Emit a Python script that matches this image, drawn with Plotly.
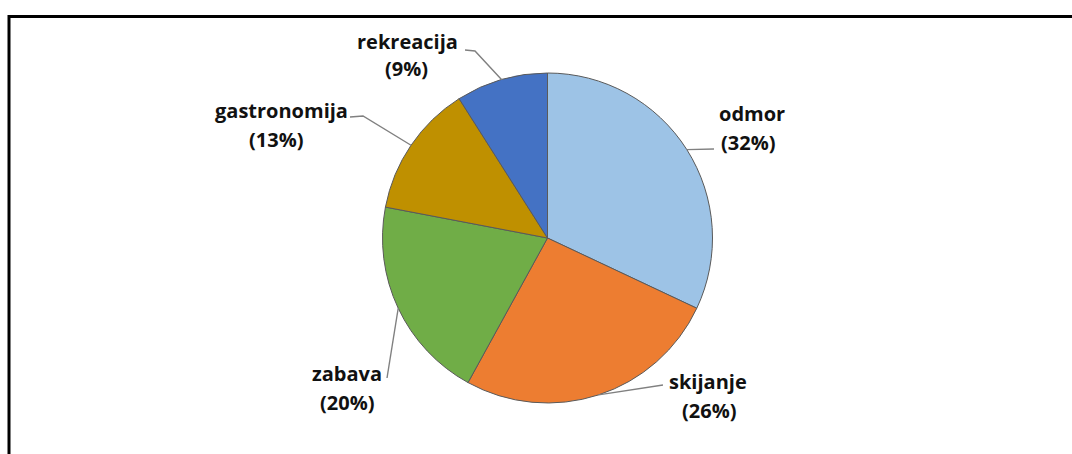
import math
import plotly.graph_objects as go

# ---- data ----
categories = ["odmor", "skijanje", "zabava", "gastronomija", "rekreacija"]
values = [32, 26, 20, 13, 9]
colors = ["#9DC3E6", "#ED7D31", "#70AD47", "#BF9000", "#4472C4"]

# ---- layout (pixels) ----
W, H = 1072, 454
CX, CY, R = 547.5, 238.0, 165.0

# label placement: (line1 x, line1 y, line2 x, line2 y) and leader-line bend points
label_pos = {
    "odmor": (752, 113, 748, 142),
    "skijanje": (708, 381, 709, 410),
    "zabava": (347, 373, 347, 402),
    "gastronomija": (281, 110, 276, 140),
    "rekreacija": (407, 41, 406, 69),
}
leader_pts = {
    "odmor": [(714, 149)],
    "skijanje": [(663, 385)],
    "zabava": [(387, 378)],
    "gastronomija": [(363, 116), (350, 117)],
    "rekreacija": [(475, 51), (465, 50)],
}

def px(x):
    return x / W

def py(y):
    return 1 - y / H

fig = go.Figure(go.Pie(
    labels=categories,
    values=values,
    sort=False,
    direction="clockwise",
    rotation=0,
    marker=dict(colors=colors, line=dict(color="#5a5a5a", width=1)),
    textinfo="none",
    hoverinfo="label+percent",
    showlegend=False,
    domain=dict(x=[px(CX - R), px(CX + R)], y=[py(CY + R), py(CY - R)]),
))

total = sum(values)
annotations = []
shapes = []
cum = 0.0
font = dict(family="Open Sans", size=20, color="#111111")
for name, v in zip(categories, values):
    frac = v / total
    mid = (cum + frac / 2) * 2 * math.pi
    cum += frac
    ex = CX + R * math.sin(mid)
    ey = CY - R * math.cos(mid)
    pct = round(100 * frac)
    x1, y1, x2, y2 = label_pos[name]
    annotations.append(dict(x=px(x1), y=py(y1), xref="paper", yref="paper",
                            text=f"<b>{name}</b>", showarrow=False,
                            xanchor="center", yanchor="middle", font=font))
    annotations.append(dict(x=px(x2), y=py(y2), xref="paper", yref="paper",
                            text=f"<b>({pct}%)</b>", showarrow=False,
                            xanchor="center", yanchor="middle", font=font))
    pts = [(ex, ey)] + leader_pts[name]
    path = "M " + " L ".join(f"{px(a):.5f},{py(b):.5f}" for a, b in pts)
    shapes.append(dict(type="path", path=path, xref="paper", yref="paper",
                       line=dict(color="#808080", width=1.4)))

# outer border (extends past right/bottom edges)
shapes.append(dict(type="rect", xref="paper", yref="paper",
                   x0=px(9), x1=1.05, y0=-0.05, y1=py(16.5),
                   line=dict(color="#000000", width=3)))

fig.update_layout(
    width=W, height=H, autosize=False,
    margin=dict(l=0, r=0, t=0, b=0),
    paper_bgcolor="white", plot_bgcolor="white",
    annotations=annotations, shapes=shapes,
)

fig.write_html("out.html", config={"displayModeBar": False},
               post_script="document.body.style.margin='0';")
